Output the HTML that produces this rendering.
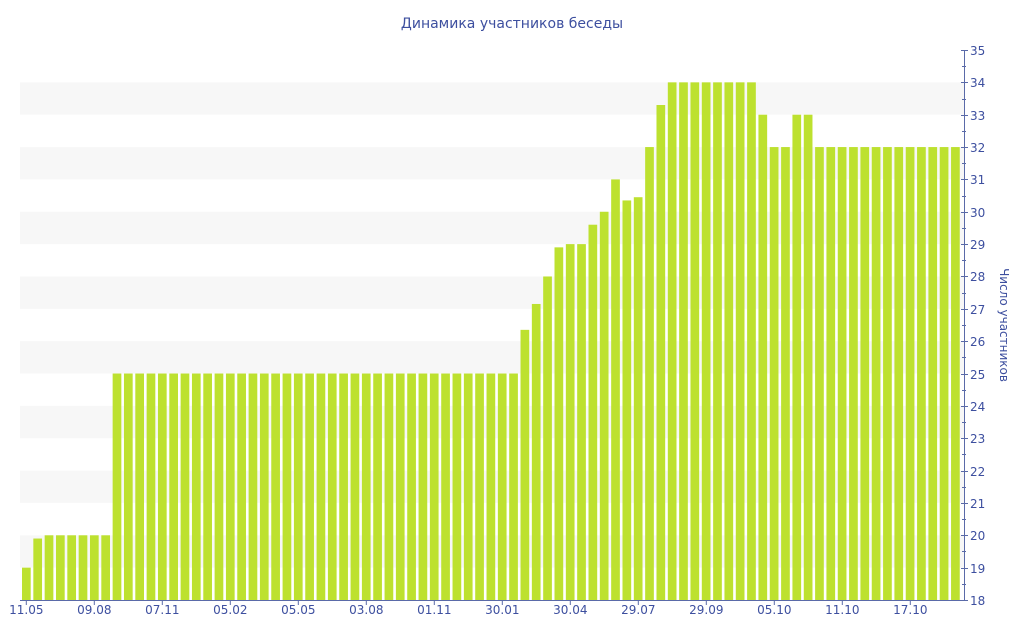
<!DOCTYPE html>
<html><head><meta charset="utf-8"><style>
html,body{margin:0;padding:0;background:#fff;}
svg{display:block;font-family:"DejaVu Sans","Liberation Sans",sans-serif;}
</style></head><body>
<svg width="1024" height="640" xmlns="http://www.w3.org/2000/svg">
<text x="512" y="28" text-anchor="middle" font-size="14" fill="#3d4f9f">Динамика участников беседы</text>
<g id="bands" fill="#f7f7f7"></g>
<g id="bars" fill="#bde12f"></g>
<g id="axes" stroke="#5a6aa8" stroke-width="1"></g>
<g id="labels" font-size="12" fill="#3d4f9f"></g>
<text transform="translate(1000,325) rotate(90)" text-anchor="middle" font-size="12" fill="#3d4f9f">Число участников</text>
<script>
var NS="http://www.w3.org/2000/svg";
function el(p,t,a,txt){var e=document.createElementNS(NS,t);for(var k in a)e.setAttribute(k,a[k]);if(txt!==undefined)e.textContent=txt;document.getElementById(p).appendChild(e);}
function Y(v){return 600-(v-18)*550/17;}
[19,21,23,25,27,29,31,33].forEach(function(v){el("bands","rect",{x:20,y:Y(v+1),width:944,height:Y(v)-Y(v+1)});});
var vals=[19,19.9,20,20,20,20,20,20];
for(var i=0;i<36;i++)vals.push(25);
vals=vals.concat([26.35,27.15,28,28.9,29,29,29.6,30,31,30.35,30.45,32,33.3]);
for(i=0;i<8;i++)vals.push(34);
vals=vals.concat([33,32,32,33,33]);
for(i=0;i<13;i++)vals.push(32);
vals.forEach(function(v,i){var x=22+i*11.33;el("bars","rect",{x:x.toFixed(2),y:Y(v).toFixed(2),width:8.7,height:(600-Y(v)).toFixed(2)});});
el("axes","line",{x1:20,y1:600.5,x2:964,y2:600.5});
el("axes","line",{x1:964.5,y1:50,x2:964.5,y2:600});
for(var v=18;v<=35;v+=0.5){var y=Math.round(Y(v))+0.5;var maj=(v%1===0);el("axes","line",{x1:maj?961:962,y1:y,x2:maj?968:966,y2:y});if(maj)el("labels","text",{x:970,y:y+4.5},String(v));}
var xl=["11.05","09.08","07.11","05.02","05.05","03.08","01.11","30.01","30.04","29.07","29.09","05.10","11.10","17.10"];
xl.forEach(function(t,i){var x=26.3+i*68;el("axes","line",{x1:x,y1:600,x2:x,y2:605});el("labels","text",{x:x,y:614,"text-anchor":"middle"},t);});
</script>
</svg>
</body></html>
